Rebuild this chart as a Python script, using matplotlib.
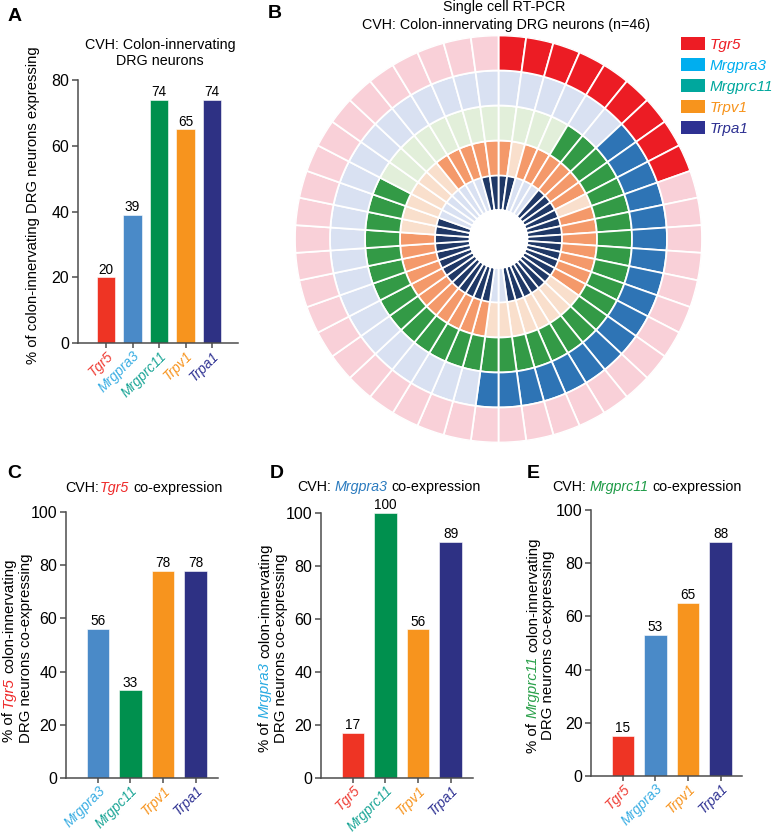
import numpy as np
import matplotlib
matplotlib.use("Agg")
import matplotlib.pyplot as plt
from matplotlib.patches import Patch

plt.rcParams['font.family'] = ['Liberation Sans', 'DejaVu Sans']

W, H = 777, 836

# ---- data ----
genes = ["Tgr5", "Mrgpra3", "Mrgprc11", "Trpv1", "Trpa1"]
pct_expressing = [20, 39, 74, 65, 74]

c_labels = ["Mrgpra3", "Mrgpc11", "Trpv1", "Trpa1"]
c_values = [56, 33, 78, 78]
d_labels = ["Tgr5", "Mrgprc11", "Trpv1", "Trpa1"]
d_values = [17, 100, 56, 89]
e_labels = ["Tgr5", "Mrgpra3", "Trpv1", "Trpa1"]
e_values = [15, 53, 65, 88]

# single cell RT-PCR, 46 cells, clockwise from 12 o'clock (1 = detected)
cells_tgr5 = "1111111110" "0000000000" "0000000000" "0000000000" "000000"
cells_mrgpra3 = "0000001111" "1111111111" "1111000000" "0000000000" "000000"
cells_mrgprc11 = "0000111111" "1111111111" "1111111111" "1111111100" "000000"
cells_trpv1 = "1011111101" "1111110000" "0000111111" "1111100000" "011111"
cells_trpa1 = "1100011111" "1111111111" "1100111111" "1111111000" "000011"

# ---- colours ----
bar_col = {"Tgr5": "#EE3424", "Mrgpra3": "#4A8AC8", "Mrgprc11": "#00904E",
           "Mrgpc11": "#00904E", "Trpv1": "#F7941E", "Trpa1": "#2E3184"}
lab_col = {"Tgr5": "#EF3E36", "Mrgpra3": "#3BAEE3", "Mrgprc11": "#1AA596",
           "Mrgpc11": "#1AA596", "Trpv1": "#F7941E", "Trpa1": "#2E3192"}
leg_col = ["#ED1C24", "#00AEEF", "#00A79D", "#F7941D", "#2E3192"]
ring_on = ["#1F3866", "#F4996A", "#339A46", "#2E74B5", "#EC1C24"]
ring_off = ["#D9E1F2", "#F9DFCC", "#E2EFDA", "#D9E1F2", "#F9D0D8"]

SPINE = "#4d4d4d"

fig = plt.figure(figsize=(W / 100, H / 100), dpi=100)
rend = fig.canvas.get_renderer()


def fx(x):
    return x / W


def fy(y):
    return 1 - y / H


def rich_text(x, y, parts, size, rotation=0):
    # parts: (text, color, style, space_after)
    sp = fig.text(0, 0, "a a", fontsize=size)
    sp2 = fig.text(0, 0, "aa", fontsize=size)
    space = sp.get_window_extent(rend).width - sp2.get_window_extent(rend).width
    sp.remove()
    sp2.remove()
    arts, widths = [], []
    for s, c, st, gap in parts:
        t = fig.text(0, 0, s, color=c, style=st, fontsize=size, rotation=rotation,
                     rotation_mode='anchor', ha='left', va='center')
        bb = t.get_window_extent(rend)
        arts.append(t)
        widths.append((bb.width if rotation == 0 else bb.height) + (space if gap else 0))
    pos = -sum(widths) / 2
    for t, w in zip(arts, widths):
        if rotation == 0:
            t.set_position((fx(x + pos), fy(y)))
        else:
            t.set_position((fx(x), fy(y - pos)))
        pos += w


def bar_panel(rect, labels, values, xlim, ylim, yticks):
    l, t, r, b = rect
    ax = fig.add_axes([fx(l), fy(b), (r - l) / W, (b - t) / H])
    x = np.arange(len(labels))
    bars = ax.bar(x, values, width=0.7, color=[bar_col[g] for g in labels],
                  edgecolor="white", linewidth=0.4)
    ax.bar_label(bars, padding=0.5, fontsize=9.8, clip_on=False)
    ax.set_xlim(*xlim)
    ax.set_ylim(*ylim)
    ax.set_yticks(yticks)
    ax.set_xticks(x)
    ax.set_xticklabels(labels, rotation=45, ha='right', va='top',
                       rotation_mode='anchor', style='italic', fontsize=10)
    for tl, g in zip(ax.get_xticklabels(), labels):
        tl.set_color(lab_col[g])
    for s in ["top", "right"]:
        ax.spines[s].set_visible(False)
    for s in ["left", "bottom"]:
        ax.spines[s].set_color(SPINE)
        ax.spines[s].set_linewidth(1.1)
    ax.tick_params(axis='y', length=4.5, width=1.1, color=SPINE, labelsize=11.5, pad=1.5)
    ax.tick_params(axis='x', length=3.5, width=1.1, color=SPINE, pad=0.5)
    return ax


# ---- A ----
bar_panel((77.7, 80, 238, 343.3), genes, pct_expressing, (-1.07, 4.98), (0, 80),
          [0, 20, 40, 60, 80])
fig.text(fx(160), fy(53), "CVH: Colon-innervating\nDRG neurons", ha='center', va='center',
         fontsize=10.3, linespacing=1.2)
fig.text(fx(33), fy(205), "% of colon-innervating DRG neurons expressing", rotation=90,
         ha='center', va='center', fontsize=10.6)

# ---- B ----
R = 204
cx, cy = 498.5, 239
axB = fig.add_axes([fx(cx - R), fy(cy + R), 2 * R / W, 2 * R / H], projection='polar')
axB.set_theta_zero_location('N')
axB.set_theta_direction(-1)
n = 46
theta = np.arange(n) * 2 * np.pi / n
rings = [cells_trpa1, cells_trpv1, cells_mrgprc11, cells_mrgpra3, cells_tgr5]
ring_bottom = [29, 63.5, 98.5, 133.5, 168.5]
for k, bits in enumerate(rings):
    cols = [ring_on[k] if b == "1" else ring_off[k] for b in bits]
    axB.bar(theta, 35, width=2 * np.pi / n, bottom=ring_bottom[k], color=cols,
            edgecolor="white", linewidth=1.3, align='edge')
axB.set_ylim(0, R)
axB.axis('off')

fig.text(fx(504), fy(7), "Single cell RT-PCR", ha='center', va='center', fontsize=10.3)
fig.text(fx(506), fy(25.5), "CVH: Colon-innervating DRG neurons (n=46)", ha='center',
         va='center', fontsize=10.3)
handles = [Patch(facecolor=c, edgecolor='none') for c in leg_col]
axB.legend(handles, genes, loc='upper left', bbox_to_anchor=(fx(681), fy(37)),
           bbox_transform=fig.transFigure, frameon=False, labelcolor=leg_col,
           prop={'style': 'italic', 'size': 11}, handlelength=1.55, handleheight=0.9,
           handletextpad=0.35, labelspacing=0.42, borderpad=0, borderaxespad=0)

# ---- C ----
bar_panel((65.7, 512, 218, 778), c_labels, c_values, (-0.99, 3.69), (0, 100),
          [0, 20, 40, 60, 80, 100])
rich_text(144, 488, [("CVH:", "black", "normal", False), ("Tgr5", "#EE2A2A", "italic", True),
                     ("co-expression", "black", "normal", False)], 10.3)
rich_text(9, 650, [("% of", "black", "normal", True), ("Tgr5", "#EE2A2A", "italic", True),
                   ("colon-innervating", "black", "normal", False)], 10.8, rotation=90)
rich_text(26, 648, [("DRG neurons co-expressing", "black", "normal", False)], 10.8, rotation=90)

# ---- D ----
bar_panel((320.7, 513, 473, 777.7), d_labels, d_values, (-0.99, 3.69), (0, 100),
          [0, 20, 40, 60, 80, 100])
rich_text(389, 487, [("CVH:", "black", "normal", True), ("Mrgpra3", "#2B7BBF", "italic", True),
                     ("co-expression", "black", "normal", False)], 10.3)
rich_text(265, 648, [("% of", "black", "normal", True), ("Mrgpra3", "#29ABE2", "italic", True),
                     ("colon-innervating", "black", "normal", False)], 10.8, rotation=90)
rich_text(281, 648, [("DRG neurons co-expressing", "black", "normal", False)], 10.8, rotation=90)

# ---- E ----
bar_panel((591, 510, 742, 776), e_labels, e_values, (-0.98, 3.66), (0, 100),
          [0, 20, 40, 60, 80, 100])
rich_text(647, 487, [("CVH:", "black", "normal", True), ("Mrgprc11", "#1E9B47", "italic", True),
                     ("co-expression", "black", "normal", False)], 10.3)
rich_text(533, 645, [("% of", "black", "normal", True), ("Mrgprc11", "#2BA14B", "italic", True),
                      ("colon-innervating", "black", "normal", False)], 10.8, rotation=90)
rich_text(548, 645, [("DRG neurons co-expressing", "black", "normal", False)], 10.8, rotation=90)

# panel letters
for lab, x, y in [("A", 8, 8), ("B", 268, 5), ("C", 7, 465), ("D", 270, 465), ("E", 527, 465)]:
    fig.text(fx(x), fy(y), lab, fontsize=14, fontweight='bold', ha='left', va='top')

fig.savefig("out.png", dpi=100)
